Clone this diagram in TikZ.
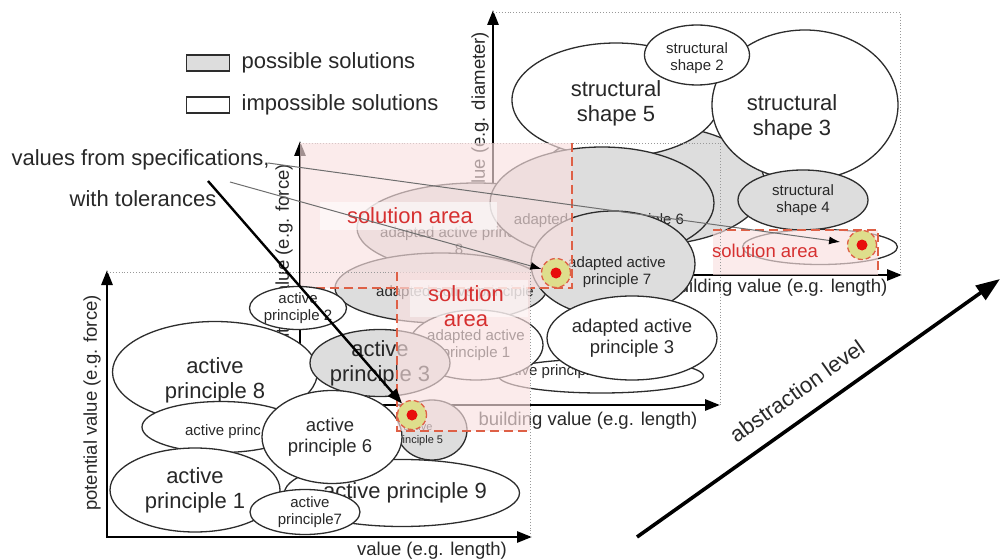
\documentclass[tikz,border=0pt]{standalone}
\usepackage{fontspec}
\setmainfont{Liberation Sans}
\usetikzlibrary{positioning,arrows.meta,shapes.geometric}
\definecolor{lineclr}{RGB}{45,45,45}
\definecolor{txtclr}{RGB}{40,40,40}
\definecolor{possclr}{RGB}{221,221,221}
\definecolor{solpink}{RGB}{249,224,224}
\definecolor{solred}{RGB}{214,48,48}
\definecolor{tolred}{RGB}{222,96,70}
\definecolor{ringclr}{RGB}{222,222,140}
\definecolor{dotred}{RGB}{232,12,12}
\definecolor{calloutgray}{RGB}{110,110,110}
\tikzset{
  bigtxt/.style={font=\fontsize{22}{25}\selectfont,text=txtclr},
  midtxt/.style={font=\fontsize{18.5}{21.5}\selectfont,text=txtclr},
  smltxt/.style={font=\fontsize{15}{17}\selectfont,text=txtclr},
  tnytxt/.style={font=\fontsize{11}{12.5}\selectfont,text=txtclr},
  every label/.style={align=center,inner sep=0pt},
  imposs/.style={ellipse,draw=lineclr,line width=1.3pt,fill=white,inner sep=0pt},
  poss/.style={imposs,fill=possclr},
  axline/.style={draw=black,line width=2.8pt,-{Triangle[length=15pt,width=11pt]}},
  planebox/.style={draw=gray!80,line width=0.9pt,dotted},
  solarea/.style={fill=solpink,fill opacity=0.65},
  toldash/.style={draw=tolred,line width=1.4pt,dash pattern=on 9pt off 5pt},
  tolring/.style={circle,minimum size=29pt,inner sep=0pt,fill=ringclr,draw=tolred,
                  line width=1.3pt,dash pattern=on 5pt off 3pt},
  dotc/.style={circle,minimum size=11pt,inner sep=0pt,fill=dotred},
  soltxt/.style={text=solred,inner sep=2pt,align=center},
  thinco/.style={draw=calloutgray,line width=1pt,-{Latex[length=11pt,width=8pt,color=black]}},
  thickco/.style={draw=black,line width=2.4pt,-{Triangle[length=15pt,width=11pt]}},
  legbox/.style={rectangle,draw=lineclr,line width=1.2pt,minimum width=43pt,
                 minimum height=16pt,inner sep=0pt},
}
\begin{document}
\begin{tikzpicture}[x=1pt,y=-1pt]
\useasboundingbox (0,0) rectangle (1002,559);

% back plane: structural shapes
\node[poss,minimum width=230pt,minimum height=120pt] (ss1) at (650,185) {};
\node[imposs,minimum width=208pt,minimum height=114pt,
      label={[bigtxt,yshift=-3pt]center:structural\\shape 5}] (ss5) at (616,100) {};
\node[imposs,minimum width=186pt,minimum height=150pt,
      label={[bigtxt,xshift=-13pt,yshift=-12pt]center:structural\\shape 3}] (ss3) at (805,105) {};
\node[imposs,minimum width=105pt,minimum height=60pt,
      label={[smltxt,yshift=-3pt]center:structural\\shape 2}] (ss2) at (697,55) {};
\node[poss,minimum width=130pt,minimum height=60pt,
      label={[smltxt]center:structural\\shape 4}] (ss4) at (803,200) {};
\node[imposs,minimum width=155pt,minimum height=35pt] (ss6) at (820,247) {};

\draw[axline] (493,276) -- (493,10);
\draw[axline] (493,275) -- (902,275);
\draw[planebox] (493,12) -| (900,275);
\node[midtxt,rotate=90] (byl) at (480,152) {building value (e.g. diameter)};
\node[midtxt] (bxl) at (778,288) {building value (e.g. length)};

\fill[solarea] (713,230) rectangle (878,275);
\draw[toldash] (713,230) -- (878,230) -- (878,275);
\node[soltxt,font=\fontsize{18.5}{21}\selectfont] (solb) at (765,251) {solution area};
\node[tolring] (tolb) at (862,245) {};
\node[dotc] (dotb) at (862,245) {};

% middle plane: adapted active principles
\node[poss,minimum width=238pt,minimum height=90pt,
      label={[smltxt,xshift=-17pt,yshift=-13pt]center:adapted active principle\\8}] (aap8) at (476,228) {};
\node[poss,minimum width=224pt,minimum height=112pt,
      label={[smltxt,xshift=-3pt,yshift=-18pt]center:adapted active principle 6}] (aap6) at (602,203) {};
\node[poss,minimum width=212pt,minimum height=70pt,
      label={[smltxt,xshift=14pt,yshift=-5pt]center:adapted active principle}] (aap2) at (441,288) {};
\node[poss,minimum width=164pt,minimum height=106pt,
      label={[smltxt,xshift=4pt,yshift=-8pt]center:adapted active\\principle 7}] (aap7) at (613,264) {};
\node[imposs,minimum width=205pt,minimum height=34pt,
      label={[smltxt,xshift=-53pt,yshift=4pt]center:active principle}] (aap4) at (601,376) {};
\node[imposs,minimum width=134pt,minimum height=70pt,
      label={[smltxt]center:adapted active\\principle 1}] (aap1) at (476,345) {};
\node[imposs,minimum width=170pt,minimum height=84pt,
      label={[midtxt]center:adapted active\\principle 3}] (aap3) at (632,338) {};

\draw[axline] (300,406) -- (300,141);
\draw[axline] (300,405) -- (720,405);
\draw[planebox] (300,143) -| (720,405);
\node[midtxt,rotate=90] (myl) at (284,272) {potential value (e.g. force)};
\node[midtxt] (mxl) at (588,421) {building value (e.g. length)};

\fill[solarea] (300,143) rectangle (572,288);
\draw[toldash] (572,143) -- (572,288) -- (300,288);
\fill[white,fill opacity=0.6] (320,202) rectangle (497,230);
\node[bigtxt,soltxt] (solm) at (410,216) {solution area};
\node[tolring] (tolm) at (556,273) {};
\node[dotc] (dotm) at (556,273) {};

% front plane: active principles
\node[imposs,minimum width=97pt,minimum height=43pt,
      label={[smltxt]center:active\\principle 2}] (ap2) at (298,308) {};
\node[imposs,minimum width=205pt,minimum height=101pt,
      label={[bigtxt,yshift=-8pt]center:active\\principle 8}] (ap8) at (215,372) {};
\node[imposs,minimum width=158pt,minimum height=51pt,
      label={[smltxt,xshift=2pt,yshift=-5pt]center:active princ}] (ap4) at (221,427) {};
\node[imposs,minimum width=170pt,minimum height=84pt,
      label={[bigtxt]center:active\\principle 1}] (ap1) at (195,490) {};
\node[imposs,minimum width=235pt,minimum height=67pt,
      label={[bigtxt,xshift=3pt]center:active principle 9}] (ap9) at (402,493) {};
\node[imposs,minimum width=110pt,minimum height=45pt,
      label={[smltxt,xshift=5pt]center:active\\principle7}] (ap7) at (305,512) {};
\node[poss,minimum width=140pt,minimum height=67pt,
      label={[bigtxt]center:active\\principle 3}] (ap3) at (380,363) {};
\node[poss,minimum width=70pt,minimum height=60pt,
      label={[tnytxt,xshift=-14pt,yshift=-4pt]center:active\\principle 5}] (ap5) at (432,430) {};
\node[imposs,minimum width=140pt,minimum height=93pt,
      label={[midtxt,xshift=-2pt]center:active\\principle 6}] (ap6) at (332,437) {};

\draw[axline] (107,538) -- (107,270);
\draw[axline] (107,537) -- (532,537);
\draw[planebox] (107,272) -| (530,537);
\node[midtxt,rotate=90] (fyl) at (92,403) {potential value (e.g. force)};
\node[midtxt] (fxl) at (432,551) {value (e.g. length)};

\fill[solarea] (397,272) rectangle (530,431);
\draw[toldash] (397,272) |- (530,431);
\fill[white,fill opacity=0.5] (410,280) rectangle (528,317);
\node[bigtxt,soltxt] (solf) at (466,306) {solution\\area};
\node[tolring] (tolf) at (412,415) {};
\node[dotc] (dotf) at (412,415) {};

% legend and callouts
\node[legbox,fill=possclr] (possbox) at (208,63) {};
\node[bigtxt,right=8pt of possbox] (posstxt) {possible solutions};
\node[legbox,fill=white] (impbox) at (208,105) {};
\node[bigtxt,right=8pt of impbox] (imptxt) {impossible solutions};

\node[bigtxt,anchor=west] (spec) at (8,160) {values from specifications,};
\node[bigtxt,anchor=east] (withtol) at (220,199) {with tolerances};
\coordinate (specend) at (268,163);
\coordinate (specmid) at (230,182);
\coordinate (tolstart) at (208,181);
\draw[thinco,shorten >=7pt] (specend) -- (tolb);
\draw[thinco] (specmid) -- (tolm);
\draw[thickco] (tolstart) -- (tolf);

% abstraction axis
\coordinate (abslo) at (637,537);
\coordinate (abshi) at (1000,279);
\draw[line width=3.6pt,-{Triangle[length=24pt,width=17pt]}] (abslo) -- (abshi);
\node[bigtxt,rotate=35.3] (abstxt) at (797,391) {abstraction level};
\end{tikzpicture}
\end{document}
